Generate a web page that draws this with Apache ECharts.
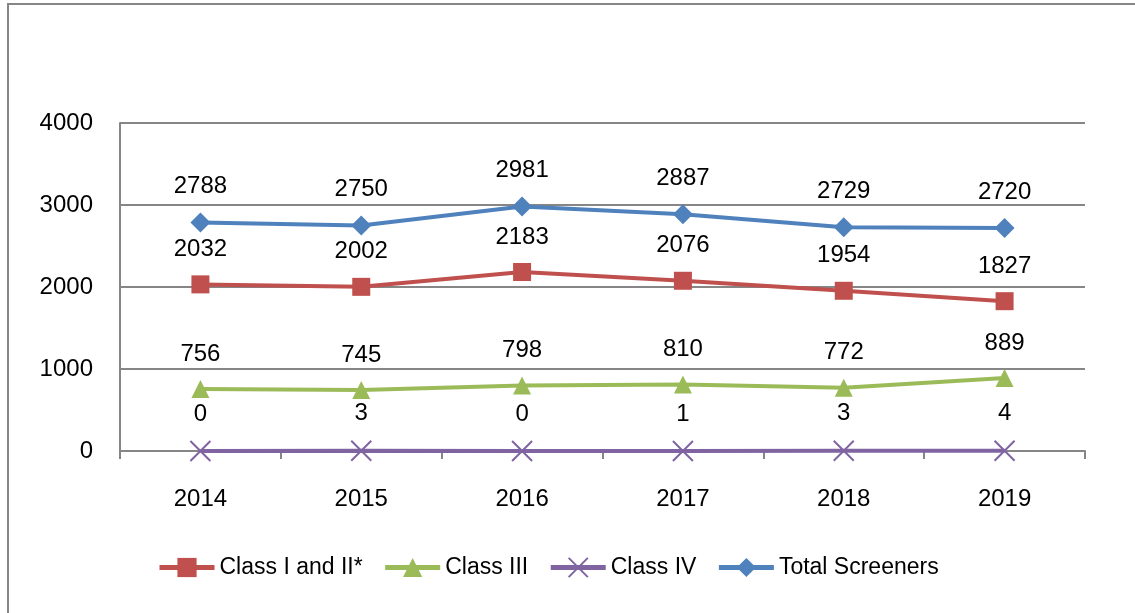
<!DOCTYPE html>
<html>
<head>
<meta charset="utf-8">
<script src="https://cdn.jsdelivr.net/npm/echarts@6/dist/echarts.min.js"></script>
<style>
html, body { margin: 0; padding: 0; background: #fff; }
#main { width: 1135px; height: 613px; }
</style>
</head>
<body>
<div id="main"></div>
<script>
// data
var years = ['2014', '2015', '2016', '2017', '2018', '2019']
var classOneTwo = [2032, 2002, 2183, 2076, 1954, 1827]
var classThree = [756, 745, 798, 810, 772, 889]
var classFour = [0, 3, 0, 1, 3, 4]
var totalScreeners = [2788, 2750, 2981, 2887, 2729, 2720]
var yTicks = [0, 1000, 2000, 3000, 4000]

var font = 'Liberation Sans'
var axisGray = '#868686'

function makeSeries (name, data, color, symbol, size) {
  return {
    name: name,
    type: 'line',
    data: data,
    symbol: symbol,
    symbolSize: size,
    showAllSymbol: true,
    lineStyle: { color: color, width: 4 },
    itemStyle: { color: color, borderColor: color, borderWidth: symbol.indexOf('path') === 0 ? 2 : 0 },
    label: {
      show: true,
      position: 'top',
      distance: 14,
      color: '#000',
      fontFamily: font,
      fontSize: 24
    },
    emphasis: { disabled: true }
  }
}

var myChart = echarts.init(document.getElementById('main'))
myChart.setOption({
  animation: false,
  textStyle: { fontFamily: font },
  graphic: [{
    type: 'rect',
    shape: { x: 8, y: 4, width: 1160, height: 640 },
    style: { fill: 'none', stroke: axisGray, lineWidth: 2 },
    silent: true
  }],
  grid: { left: 120, right: 50, top: 123, bottom: 162 },
  legend: {
    bottom: 29,
    left: 152,
    itemWidth: 55,
    itemHeight: 24,
    itemGap: 20,
    lineStyle: { width: 5 },
    textStyle: { fontFamily: font, fontSize: 23, color: '#000' },
    data: ['Class I and II*', 'Class III', 'Class IV', 'Total Screeners']
  },
  xAxis: {
    type: 'category',
    data: years,
    boundaryGap: true,
    axisLine: { lineStyle: { color: axisGray, width: 2 } },
    axisTick: { show: true, length: 8, alignWithLabel: false, lineStyle: { color: axisGray, width: 2 } },
    axisLabel: { color: '#000', fontFamily: font, fontSize: 24, margin: 36 }
  },
  yAxis: {
    type: 'value',
    min: yTicks[0],
    max: yTicks[yTicks.length - 1],
    interval: 1000,
    axisLine: { show: true, lineStyle: { color: axisGray, width: 2 } },
    axisTick: { show: false },
    splitLine: { lineStyle: { color: axisGray, width: 2 } },
    axisLabel: {
      color: '#000',
      fontFamily: font,
      fontSize: 24,
      margin: 27,
      formatter: function (v) { return String(v) }
    }
  },
  series: [
    makeSeries('Class I and II*', classOneTwo, '#C0504D', 'rect', 18),
    makeSeries('Class III', classThree, '#9BBB59', 'triangle', 18),
    makeSeries('Class IV', classFour, '#8064A2', 'path://M0,0L10,10M10,0L0,10', 20),
    makeSeries('Total Screeners', totalScreeners, '#4F81BD', 'diamond', 20)
  ]
})
</script>
</body>
</html>
